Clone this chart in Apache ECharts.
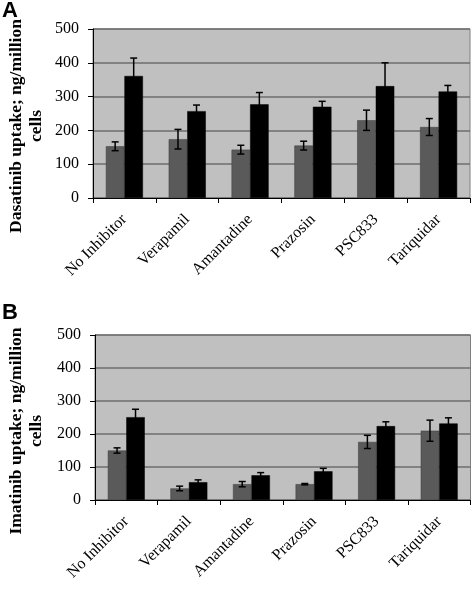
<!DOCTYPE html>
<html>
<head>
<meta charset="utf-8">
<script src="https://cdn.jsdelivr.net/npm/echarts@6/dist/echarts.min.js"></script>
<style>
html,body{margin:0;padding:0;background:#fff;}
#chart{width:475px;height:596px;}
</style>
</head>
<body>
<div id="chart"></div>
<script>
var categories = ['No Inhibitor', 'Verapamil', 'Amantadine', 'Prazosin', 'PSC833', 'Tariquidar'];
var yTicks = [0, 100, 200, 300, 400, 500];

var dasaGray = [153, 174, 143, 155, 230, 210];
var dasaGrayErr = [13, 29, 13, 13, 30, 25];
var dasaBlack = [361, 257, 277, 270, 331, 315];
var dasaBlackErr = [53, 18, 35, 16, 69, 18];

var imaGray = [150, 35, 48, 48, 176, 210];
var imaGrayErr = [8, 7, 8, 2, 20, 32];
var imaBlack = [251, 54, 75, 87, 224, 232];
var imaBlackErr = [24, 7, 8, 9, 13, 17];

var SERIF = '"Liberation Serif","Times New Roman",serif';
var GAP = 0.59; // fraction of band used by the two bars

function errData(vals, errs) {
  return vals.map(function (v, i) { return [i, v, errs[i]]; });
}
function errRender(side) {
  return function (params, api) {
    var i = api.value(0), v = api.value(1), e = api.value(2);
    var band = api.size([1, 0])[0];
    var off = side * band * GAP / 4;
    var top = api.coord([i, v + e]);
    var bot = api.coord([i, v - e]);
    var x = top[0] + off;
    var cap = 3.5;
    var st = { stroke: '#000', lineWidth: 1.5 };
    return {
      type: 'group',
      children: [
        { type: 'line', shape: { x1: x, y1: top[1], x2: x, y2: bot[1] }, style: st },
        { type: 'line', shape: { x1: x - cap, y1: top[1], x2: x + cap, y2: top[1] }, style: st },
        { type: 'line', shape: { x1: x - cap, y1: bot[1], x2: x + cap, y2: bot[1] }, style: st }
      ]
    };
  };
}

function xAx(gi) {
  return {
    type: 'category', gridIndex: gi, data: categories,
    axisLine: { lineStyle: { color: '#000', width: 1 } },
    axisTick: { show: true, length: 5, lineStyle: { color: '#000' } },
    axisLabel: { rotate: 45, margin: 19, fontFamily: SERIF, fontSize: 16, color: '#000' }
  };
}
function yAx(gi) {
  return {
    type: 'value', gridIndex: gi, min: yTicks[0], max: yTicks[yTicks.length - 1], interval: 100,
    axisLine: { show: true, lineStyle: { color: '#000', width: 1 } },
    axisTick: { show: true, length: 5, lineStyle: { color: '#000' } },
    axisLabel: { margin: 14, fontFamily: SERIF, fontSize: 16, color: '#000' },
    splitLine: { show: true, lineStyle: { color: '#6e6e6e', width: 1.5 } }
  };
}
function bar(gi, data, color) {
  return {
    type: 'bar', xAxisIndex: gi, yAxisIndex: gi, data: data,
    barGap: '0%', barCategoryGap: '41%',
    itemStyle: { color: color, borderColor: color === '#000' ? '#000' : '#3c3c3c', borderWidth: 0.5 },
    silent: true, z: 2
  };
}
function err(gi, vals, errs, side) {
  return {
    type: 'custom', xAxisIndex: gi, yAxisIndex: gi, data: errData(vals, errs),
    encode: { x: 0, y: 1 }, renderItem: errRender(side), z: 5, silent: true
  };
}

var chart = echarts.init(document.getElementById('chart'), null, { renderer: 'canvas' });
chart.setOption({
  animation: false,
  backgroundColor: '#fff',
  grid: [
    { left: 93, right: 5, top: 29, height: 169, show: true, backgroundColor: '#c0c0c0', borderColor: '#808080', borderWidth: 1 },
    { left: 95, right: 4.5, top: 335, height: 165, show: true, backgroundColor: '#c0c0c0', borderColor: '#808080', borderWidth: 1 }
  ],
  xAxis: [xAx(0), xAx(1)],
  yAxis: [yAx(0), yAx(1)],
  graphic: [
    { type: 'text', left: 2, top: 0, style: { text: 'A', font: 'bold 22px "Liberation Sans",Arial,sans-serif', fill: '#000' } },
    { type: 'text', left: 2, top: 302, style: { text: 'B', font: 'bold 22px "Liberation Sans",Arial,sans-serif', fill: '#000' } },
    { type: 'text', x: 26, y: 126, rotation: Math.PI / 2,
      style: { text: 'Dasatinib uptake; ng/million\ncells', font: 'bold 17.5px ' + SERIF, fill: '#000', align: 'center', verticalAlign: 'middle', lineHeight: 20 } },
    { type: 'text', x: 26, y: 431, rotation: Math.PI / 2,
      style: { text: 'Imatinib uptake; ng/million\ncells', font: 'bold 17.5px ' + SERIF, fill: '#000', align: 'center', verticalAlign: 'middle', lineHeight: 20 } }
  ],
  series: [
    bar(0, dasaGray, '#5a5a5a'), bar(0, dasaBlack, '#000'),
    err(0, dasaGray, dasaGrayErr, -1), err(0, dasaBlack, dasaBlackErr, 1),
    bar(1, imaGray, '#5a5a5a'), bar(1, imaBlack, '#000'),
    err(1, imaGray, imaGrayErr, -1), err(1, imaBlack, imaBlackErr, 1)
  ]
});
</script>
</body>
</html>
